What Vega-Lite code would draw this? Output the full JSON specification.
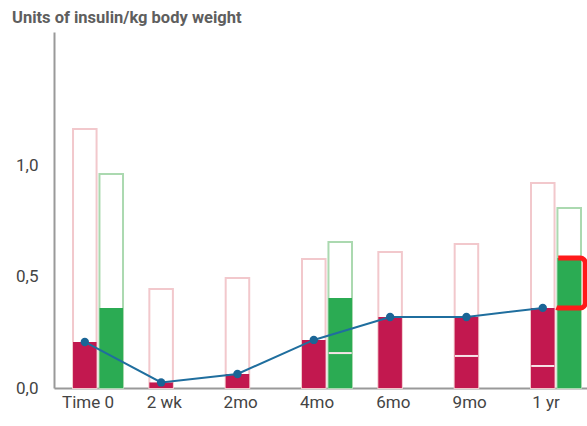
{
  "$schema": "https://vega.github.io/schema/vega-lite/v6.json",
  "width": 533,
  "height": 356,
  "autosize": {"type": "none"},
  "padding": {"left": 54, "top": 32, "right": 0, "bottom": 38},
  "background": "white",
  "title": {"text": "Units of insulin/kg body weight", "anchor": "start", "frame": "group", "dx": -42, "dy": 15, "offset": 8, "baseline": "alphabetic", "font": "Roboto", "fontSize": 16.5, "fontWeight": "bold", "color": "#5e5e5e"},
  "config": {"view": {"stroke": null}},
  "datasets": {
    "bars": [
      {"time": "Time 0", "series": "red", "total": 1.164, "filled": 0.207},
      {"time": "Time 0", "series": "green", "total": 0.962, "filled": 0.36},
      {"time": "2 wk", "series": "red", "total": 0.445, "filled": 0.025},
      {"time": "2mo", "series": "red", "total": 0.494, "filled": 0.063},
      {"time": "4mo", "series": "red", "total": 0.58, "filled": 0.216},
      {"time": "4mo", "series": "green", "total": 0.656, "filled": 0.404},
      {"time": "6mo", "series": "red", "total": 0.611, "filled": 0.319},
      {"time": "9mo", "series": "red", "total": 0.647, "filled": 0.319},
      {"time": "1 yr", "series": "red", "total": 0.921, "filled": 0.36},
      {"time": "1 yr", "series": "green", "total": 0.809, "filled": 0.584}
    ],
    "breaks": [
      {"time": "4mo", "series": "green", "value": 0.157},
      {"time": "9mo", "series": "red", "value": 0.144},
      {"time": "1 yr", "series": "red", "value": 0.099}
    ],
    "trend": [
      {"time": "Time 0", "series": "red", "value": 0.207},
      {"time": "2 wk", "series": "red", "value": 0.025},
      {"time": "2mo", "series": "red", "value": 0.063},
      {"time": "4mo", "series": "red", "value": 0.216},
      {"time": "6mo", "series": "red", "value": 0.319},
      {"time": "9mo", "series": "red", "value": 0.319},
      {"time": "1 yr", "series": "red", "value": 0.36}
    ],
    "bracket": [
      {"time": "1 yr", "series": "green", "lo": 0.36, "hi": 0.584}
    ]
  },
  "encoding": {
    "x": {
      "field": "time", "type": "nominal",
      "scale": {"domain": ["Time 0", "2 wk", "2mo", "4mo", "6mo", "9mo", "1 yr"], "paddingInner": 0.345, "paddingOuter": 0.164, "align": 0.76},
      "axis": {"title": null, "labelAngle": 0, "ticks": false, "domainColor": "#999999", "domainWidth": 2, "labelFont": "Roboto", "labelFontSize": 17, "labelColor": "#444444", "labelPadding": 6, "labelOffset": -10}
    },
    "xOffset": {"field": "series", "type": "nominal", "scale": {"domain": ["red", "green"], "paddingInner": 0.11, "paddingOuter": 0}}
  },
  "layer": [
    {
      "data": {"name": "bars"},
      "mark": {"type": "bar", "fill": "white", "strokeWidth": 2},
      "encoding": {
        "y": {"field": "total", "type": "quantitative", "scale": {"domain": [0, 1.6], "nice": false},
          "axis": {"title": null, "values": [0, 0.5, 1], "ticks": false, "grid": false, "domainColor": "#999999", "domainWidth": 2, "labelFont": "Roboto", "labelFontSize": 17, "labelColor": "#444444", "labelPadding": 16, "labelExpr": "replace(format(datum.value, '.1f'), '.', ',')"}},
        "stroke": {"field": "series", "type": "nominal", "scale": {"domain": ["red", "green"], "range": ["#f2c8cc", "#abd9b0"]}, "legend": null}
      }
    },
    {
      "data": {"name": "bars"},
      "mark": {"type": "bar"},
      "encoding": {
        "y": {"field": "filled", "type": "quantitative"},
        "fill": {"field": "series", "type": "nominal", "scale": {"domain": ["red", "green"], "range": ["#c2184f", "#2bab53"]}, "legend": null}
      }
    },
    {
      "data": {"name": "breaks"},
      "mark": {"type": "tick", "color": "#f6e4e8", "thickness": 2, "size": 23, "opacity": 1},
      "encoding": {
        "y": {"field": "value", "type": "quantitative"}
      }
    },
    {
      "data": {"name": "trend"},
      "mark": {"type": "line", "color": "#1f6e9e", "strokeWidth": 2},
      "encoding": {
        "y": {"field": "value", "type": "quantitative"}
      }
    },
    {
      "data": {"name": "trend"},
      "mark": {"type": "point", "filled": true, "color": "#1a6596", "size": 70, "opacity": 1},
      "encoding": {
        "y": {"field": "value", "type": "quantitative"}
      }
    },
    {
      "data": {"name": "bracket"},
      "mark": {"type": "bar", "width": 32, "fillOpacity": 0, "stroke": "#ff1a1a", "strokeWidth": 5, "cornerRadius": 5, "strokeDash": [101, 60]},
      "encoding": {
        "y": {"field": "lo", "type": "quantitative"},
        "y2": {"field": "hi"}
      }
    }
  ]
}
